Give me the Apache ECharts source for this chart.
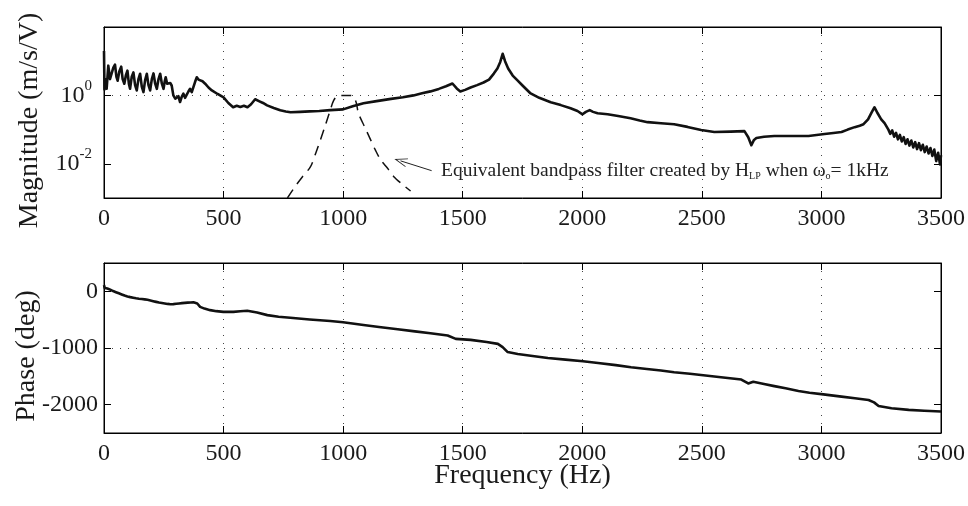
<!DOCTYPE html>
<html>
<head>
<meta charset="utf-8">
<script src="https://cdn.jsdelivr.net/npm/echarts@6/dist/echarts.min.js"></script>
<style>
html,body{margin:0;padding:0;background:#fff;}
#chart{width:968px;height:506px;}
</style>
</head>
<body>
<div id="chart"></div>
<script>
// ---------- data ----------
const freqTicks = [0, 500, 1000, 1500, 2000, 2500, 3000, 3500];
const magTickValues = [0.01, 1];
const phaseTickValues = [-2000, -1000, 0];

// Measured magnitude (m/s/V)
const magFreq = [0,2,6,11,18,25,32,39,46,52,57,64,72,78,85,92,98,104,109,116,123,130,137,144,151,158,165,172,179,186,193,200,207,214,221,228,235,242,249,254,258,264,270,277,283,290,298,304,311,318,325,332,339,346,353,360,367,374,381,388,395,402,412,423,437,451,475,500,520,540,555,570,585,600,615,632,650,665,682,710,737,760,780,820,860,900,946,1000,1040,1085,1140,1200,1250,1294,1330,1365,1400,1430,1457,1475,1490,1510,1533,1560,1587,1610,1630,1645,1657,1667,1677,1690,1709,1730,1750,1784,1820,1868,1910,1951,1980,2001,2015,2031,2045,2064,2106,2150,2202,2240,2273,2329,2384,2440,2497,2552,2620,2678,2694,2707,2718,2728,2760,2803,2880,2946,3013,3050,3084,3110,3139,3160,3176,3195,3210,3222,3235,3250,3264,3270,3280,3288,3296,3304,3312,3320,3328,3336,3344,3352,3360,3368,3376,3384,3392,3400,3408,3416,3424,3432,3440,3448,3456,3464,3472,3480,3488,3496,3500];
const magVals = [20,1.5,3.0,1.56,7.4,3.0,2.7,6.5,7.9,3.5,2.7,5.0,6.9,3.0,2.2,4.0,5.3,2.2,1.56,3.5,4.7,2.0,1.4,3.0,4.3,1.8,1.25,2.8,4.3,2.0,1.4,3.0,4.4,2.2,1.56,3.0,4.3,2.2,1.56,2.6,3.4,2.2,2.0,2.3,1.95,1.0,0.80,0.72,0.95,0.64,0.9,1.12,0.85,0.89,1.3,1.56,1.25,1.4,2.5,3.4,2.9,3.05,2.6,2.2,1.7,1.4,1.1,0.87,0.6,0.45,0.5,0.46,0.5,0.45,0.55,0.77,0.67,0.6,0.51,0.43,0.37,0.34,0.32,0.33,0.34,0.35,0.37,0.39,0.48,0.59,0.68,0.79,0.88,1.0,1.15,1.31,1.55,1.85,2.23,1.6,1.31,1.45,1.7,2.0,2.38,2.9,4.34,6.1,9.5,16.5,10,6.1,3.8,2.7,1.95,1.14,0.85,0.63,0.52,0.42,0.35,0.28,0.33,0.37,0.33,0.30,0.28,0.25,0.215,0.185,0.165,0.154,0.144,0.12,0.097,0.085,0.087,0.090,0.060,0.035,0.05,0.057,0.062,0.065,0.065,0.065,0.074,0.08,0.085,0.1,0.118,0.13,0.144,0.2,0.32,0.45,0.3,0.2,0.154,0.14,0.10,0.075,0.095,0.062,0.08,0.052,0.07,0.045,0.06,0.038,0.052,0.034,0.048,0.030,0.043,0.027,0.040,0.025,0.036,0.022,0.032,0.020,0.029,0.017,0.026,0.012,0.021,0.0095,0.018];

// Equivalent bandpass filter (dashed)
const filtFreq = [767,800,830,863,885,905,925,946,960,976,1000,1025,1043,1055,1064,1090,1115,1135,1157,1185,1212,1245,1282];
const filtVals = [0.001,0.0022,0.0042,0.0081,0.02,0.05,0.13,0.37,0.7,0.97,1.0,1.0,0.95,0.6,0.3,0.12,0.05,0.025,0.013,0.0075,0.0042,0.0026,0.0016];

// Phase (deg)
const phaseFreq = [0,3,8,14,20,26,32,38,44,50,56,62,68,74,80,86,92,98,104,110,116,122,128,134,140,146,152,158,164,170,176,182,188,194,200,206,212,218,224,230,236,242,248,254,260,266,272,278,284,290,296,302,308,314,320,326,332,338,344,350,356,362,368,374,380,390,402,420,444,470,499,541,570,599,640,683,730,779,860,946,1000,1085,1150,1228,1300,1365,1437,1471,1533,1600,1647,1667,1688,1730,1800,1856,1930,2003,2066,2140,2204,2270,2329,2384,2450,2506,2580,2665,2694,2715,2760,2803,2850,2904,2950,3008,3084,3140,3197,3220,3239,3293,3365,3430,3500];
const phaseVals = [110,60,95,50,62,30,40,5,18,-15,-5,-35,-22,-55,-40,-75,-58,-90,-72,-102,-85,-112,-95,-122,-104,-130,-110,-136,-118,-142,-124,-150,-134,-162,-146,-174,-158,-186,-170,-198,-180,-206,-190,-214,-198,-222,-204,-228,-208,-226,-200,-220,-196,-214,-190,-208,-186,-204,-182,-200,-180,-196,-178,-194,-190,-215,-274,-305,-332,-350,-362,-362,-352,-344,-375,-420,-448,-467,-496,-524,-545,-594,-628,-670,-706,-740,-780,-839,-857,-895,-927,-985,-1072,-1107,-1145,-1177,-1205,-1235,-1264,-1302,-1340,-1372,-1398,-1428,-1455,-1480,-1515,-1556,-1626,-1597,-1635,-1673,-1712,-1760,-1790,-1818,-1858,-1888,-1918,-1960,-2022,-2063,-2092,-2108,-2120];

// Annotation arrow (data coordinates: tail -> head)
const arrowTail = [1370, 0.0063];
const arrowHead = [1240, 0.0122];

// ---------- chart ----------
const zip = (a, b) => a.map((v, i) => [v, b[i]]);
const FONT = 'Liberation Serif';
const INK = '#1a1a1a';
const gridDot = { color: ['transparent', '#444'], type: [1, 7], width: 1 };
const plain = v => String(v);

function xAxisBase(gridIndex, position, showLabel, showSplit) {
  return {
    gridIndex, type: 'value', position, min: 0, max: 3500, interval: 500,
    axisLine: { show: true, onZero: false, lineStyle: { color: '#000', width: 1 } },
    axisTick: { show: true, inside: true, length: 7, lineStyle: { color: '#000', width: 1 } },
    axisLabel: { show: showLabel, customValues: freqTicks, formatter: plain, fontFamily: FONT, fontSize: 24, color: INK, margin: 9 },
    splitLine: { show: showSplit, lineStyle: { color: '#444', type: [1, 7], width: 1 } }
  };
}
function magAxis(position, showLabel, showSplit) {
  return {
    gridIndex: 0, type: 'log', logBase: 10, min: 0.001, max: 100, position,
    axisLine: { show: true, onZero: false, lineStyle: { color: '#000', width: 1 } },
    axisTick: { show: true, inside: true, length: 7, customValues: magTickValues, lineStyle: { color: '#000' } },
    axisLabel: {
      show: showLabel, customValues: magTickValues, margin: 12, color: INK,
      formatter: v => '{b|10}{s|' + Math.round(Math.log10(v)) + '}',
      rich: {
        b: { fontFamily: FONT, fontSize: 24, lineHeight: 34, color: INK },
        s: { fontFamily: FONT, fontSize: 15, lineHeight: 15, verticalAlign: 'top', color: INK }
      }
    },
    splitLine: { show: showSplit, lineStyle: gridDot }
  };
}
function phaseAxis(position, showLabel, showSplit) {
  return {
    gridIndex: 1, type: 'value', min: -2500, max: 500, interval: 500, position,
    axisLine: { show: true, onZero: false, lineStyle: { color: '#000', width: 1 } },
    axisTick: { show: true, inside: true, length: 7, customValues: phaseTickValues, lineStyle: { color: '#000' } },
    axisLabel: { show: showLabel, customValues: phaseTickValues, formatter: plain, margin: 6, fontFamily: FONT, fontSize: 24, color: INK },
    splitLine: { show: showSplit, lineStyle: gridDot }
  };
}

const chart = echarts.init(document.getElementById('chart'), null, { renderer: 'canvas' });

const yMag = magAxis('left', true, true);
yMag.name = 'Magnitude (m/s/V)';
yMag.nameLocation = 'middle';
yMag.nameGap = 60;
yMag.nameMoveOverlap = false;
yMag.nameTextStyle = { fontFamily: FONT, fontSize: 28, color: INK, padding: [0, 16, 0, 0] };

const yPh = phaseAxis('left', true, true);
yPh.name = 'Phase (deg)';
yPh.nameLocation = 'middle';
yPh.nameGap = 63;
yPh.nameMoveOverlap = false;
yPh.nameTextStyle = { fontFamily: FONT, fontSize: 28, color: INK, padding: [0, 16, 0, 0] };

const xBottom = xAxisBase(1, 'bottom', true, true);
xBottom.name = 'Frequency (Hz)';
xBottom.nameLocation = 'middle';
xBottom.nameGap = 29;
xBottom.nameMoveOverlap = false;
xBottom.nameTextStyle = { fontFamily: FONT, fontSize: 28, color: INK, verticalAlign: 'top' };

chart.setOption({
  animation: false,
  backgroundColor: '#fff',
  grid: [
    { left: 104, top: 27, width: 837, height: 171, containLabel: false, outerBoundsMode: 'none', show: true, borderColor: '#000', borderWidth: 1, backgroundColor: 'transparent' },
    { left: 104, top: 263, width: 837, height: 170, containLabel: false, outerBoundsMode: 'none', show: true, borderColor: '#000', borderWidth: 1, backgroundColor: 'transparent' }
  ],
  xAxis: [
    xAxisBase(0, 'bottom', true, true),
    xBottom,
    xAxisBase(0, 'top', false, false),
    xAxisBase(1, 'top', false, false)
  ],
  yAxis: [
    yMag,
    yPh,
    magAxis('right', false, false),
    phaseAxis('right', false, false)
  ],
  series: [
    {
      name: 'Magnitude', type: 'line', xAxisIndex: 0, yAxisIndex: 0,
      data: zip(magFreq, magVals), showSymbol: false, symbol: 'none',
      lineStyle: { color: '#111', width: 2.6, join: 'round' }, z: 3
    },
    {
      name: 'Bandpass', type: 'line', xAxisIndex: 0, yAxisIndex: 0,
      data: zip(filtFreq, filtVals), showSymbol: false, symbol: 'none', smooth: 0.3,
      lineStyle: { color: '#111', width: 1.5, type: [10, 7] }, z: 2,
      markLine: {
        silent: true, animation: false,
        symbol: ['none', 'path://M0,12 L5,0 L10,12 L9,12 L5,2.5 L1,12 Z'],
        symbolSize: [9, 13],
        lineStyle: { type: 'solid', color: '#222', width: 1 },
        label: { show: false },
        emphasis: { disabled: true },
        data: [[{ coord: arrowTail }, { coord: arrowHead }]]
      }
    },
    {
      name: 'Phase', type: 'line', xAxisIndex: 1, yAxisIndex: 1,
      data: zip(phaseFreq, phaseVals), showSymbol: false, symbol: 'none',
      lineStyle: { color: '#111', width: 2.6, join: 'round' }, z: 3
    }
  ],
  graphic: [
    {
      type: 'text', left: 441, top: 161, silent: true,
      style: {
        text: '{n|Equivalent bandpass filter created by H}{s|LP}{n| when ω}{s|o}{n|= 1kHz}',
        rich: {
          n: { fontFamily: FONT, fontSize: 19.5, lineHeight: 24, fill: '#222', verticalAlign: 'bottom' },
          s: { fontFamily: FONT, fontSize: 10, lineHeight: 10, fill: '#222', verticalAlign: 'bottom' }
        }
      }
    }
  ]
});
</script>
</body>
</html>
